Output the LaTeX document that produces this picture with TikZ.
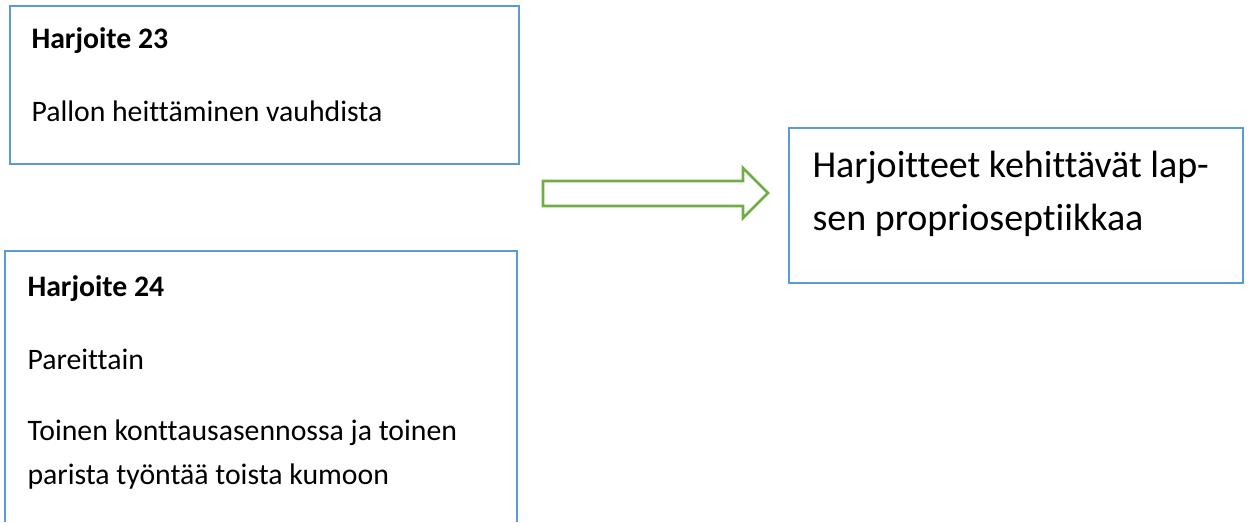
\documentclass[tikz,border=0pt]{standalone}
\usepackage{fontspec}
\setmainfont[Ligatures=NoCommon]{Carlito}
\usepackage{tikz}
\usepackage{xcolor}
\usetikzlibrary{positioning}
\definecolor{boxblue}{RGB}{91,155,213}
\definecolor{arrowgreen}{RGB}{112,173,71}

\begin{document}
\begin{tikzpicture}[x=0.4pt, y=-0.4pt,
    panel/.style={boxblue, line width=1.15pt},
    bigarrow/.style={arrowgreen, line width=1.1pt, line join=miter},
    line/.style={anchor=base west, inner sep=0pt, font=\fontsize{11.9}{14}\selectfont},
    head/.style={line, font=\fontsize{11.9}{14}\selectfont\bfseries},
    bigline/.style={line, font=\fontsize{15.2}{18}\selectfont}]
                        \useasboundingbox (0, 0) rectangle (1248, 522);
                        \draw[panel] (10, 6) rectangle (519, 164);
                        \draw[panel] (5, 522) -- (5, 251) -- (517, 251) -- (517, 522);
                        \draw[panel] (789, 128) rectangle (1243, 283);
                        \draw[bigarrow] (543, 181) -- (743, 181) -- (743, 168) -- (768, 193) -- (743, 218) -- (743, 206) -- (543, 206) -- cycle;
                        \node[head] (t23) at (31, 48.5) {Harjoite 23};
                        \node[line] (d23) at (31, 121) {Pallon heittäminen vauhdista};
                        \node[head] (t24) at (27, 296) {Harjoite 24};
                        \node[line] (d24a) at (27, 369) {Pareittain};
                        \node[line] (d24b) at (27, 440) {Toinen konttausasennossa ja toinen};
                        \node[line] (d24c) at (27, 484) {parista työntää toista kumoon};
                        \node[bigline] (res1) at (812, 177) {Harjoitteet kehittävät lap-};
                        \node[bigline] (res2) at (812, 230) {sen proprioseptiikkaa};
                    \end{tikzpicture}
\end{document}
